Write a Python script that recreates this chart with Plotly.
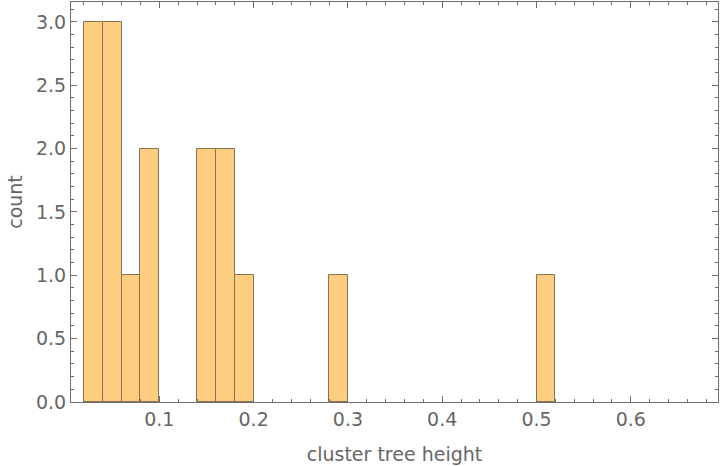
import plotly.graph_objects as go

bin_start = [0.02, 0.04, 0.06, 0.08, 0.14, 0.16, 0.18, 0.28, 0.50]
counts = [3, 3, 1, 2, 2, 2, 1, 1, 1]
bin_width = 0.02
x_ticks = [0.1, 0.2, 0.3, 0.4, 0.5, 0.6]
y_ticks = [0.0, 0.5, 1.0, 1.5, 2.0, 2.5, 3.0]

centers = [b + bin_width / 2 for b in bin_start]

fig = go.Figure(go.Bar(
    x=centers, y=counts, width=[bin_width] * len(counts),
    marker=dict(color="#FDCD80", line=dict(color="#8a7350", width=1)),
))

font = dict(family="DejaVu Sans", size=19, color="#666666")
axis_common = dict(
    showline=True, linecolor="#6e6e6e", linewidth=1, mirror="ticks",
    ticks="inside", ticklen=6, tickcolor="#6e6e6e", tickwidth=1,
    showgrid=False, zeroline=False, tickfont=font, automargin=False,
)

fig.update_xaxes(
    range=[0.0063, 0.6925], tickvals=x_ticks, ticktext=[f"{v:.1f}" for v in x_ticks],
    minor=dict(dtick=0.02, tick0=0, ticks="inside", ticklen=3, tickcolor="#6e6e6e", showgrid=False),
    title=dict(text="cluster tree height", font=font, standoff=18),
    **axis_common,
)
fig.update_yaxes(
    range=[0, 3.157], tickvals=y_ticks, ticktext=[f"{v:.1f}" for v in y_ticks],
    minor=dict(dtick=0.1, tick0=0, ticks="inside", ticklen=3, tickcolor="#6e6e6e", showgrid=False),
    title=dict(text="count", font=font, standoff=8),
    **axis_common,
)

fig.update_layout(
    width=720, height=466,
    margin=dict(l=71, r=2, t=2, b=64),
    plot_bgcolor="white", paper_bgcolor="white",
    showlegend=False, bargap=0,
)

fig.write_html("out.html", config={"displayModeBar": False},
               post_script="document.body.style.margin='0';")
